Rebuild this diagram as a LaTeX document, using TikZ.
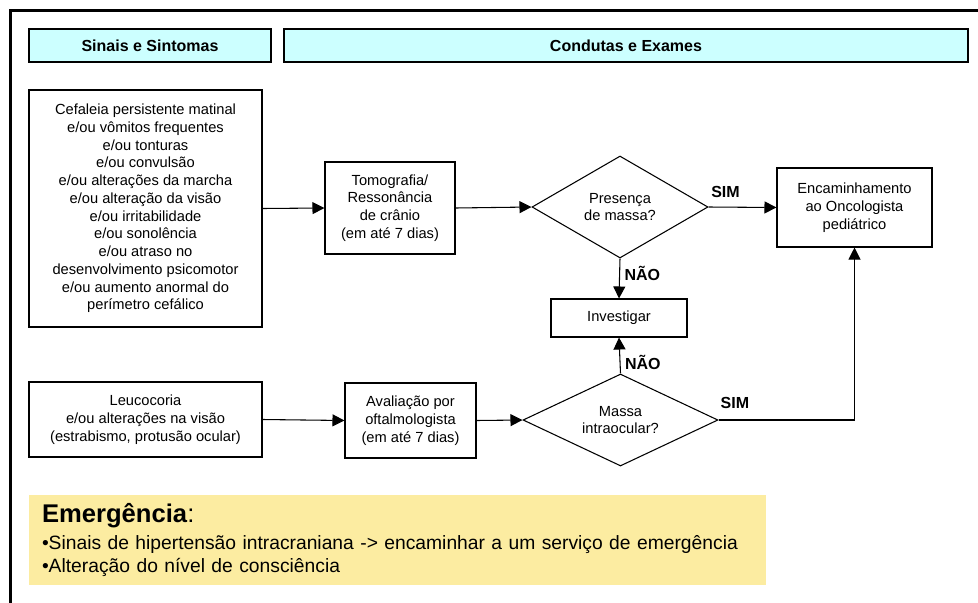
\documentclass[tikz,border=0pt]{standalone}
\usepackage{fontspec}
\setmainfont{Liberation Sans}
\usetikzlibrary{shapes.geometric,arrows.meta}
\definecolor{ciano}{RGB}{204,255,255}
\definecolor{amarelo}{RGB}{252,236,161}

\begin{document}
\begin{tikzpicture}[x=0.75pt,y=-0.75pt,
	caixa/.style={draw,line width=0.8pt,align=center,inner sep=0pt,font=\fontsize{11}{13.3}\selectfont},
	cabecalho/.style={draw,line width=0.9pt,fill=ciano,minimum height=24.75pt,font=\fontsize{12}{14}\selectfont\bfseries},
	decisao/.style={diamond,draw,line width=0.8pt,align=center,inner sep=0pt,aspect=1.7,font=\fontsize{11}{13.3}\selectfont},
	seta/.style={line width=0.8pt,-{Triangle[length=9pt,width=9pt]}},
	rotulo/.style={font=\fontsize{12}{14}\selectfont\bfseries}]
	\useasboundingbox (0,0) rectangle (978,603);
	\draw[line width=2.25pt] (10.5,603) -- (10.5,10.5) -- (978,10.5);
	\node[cabecalho,minimum width=181.5pt] (cab sinais) at (150,45.5) {Sinais e Sintomas};
	\node[cabecalho,minimum width=513pt] (cab condutas) at (626,45.5) {Condutas e Exames};
	\node[caixa,minimum width=174.75pt,minimum height=177.75pt] (sintomas) at (145.5,208.5) {Cefaleia persistente matinal\\e/ou vômitos frequentes\\e/ou tonturas\\e/ou convulsão\\e/ou alterações da marcha\\e/ou alteração da visão\\e/ou irritabilidade\\e/ou sonolência\\e/ou atraso no\\desenvolvimento psicomotor\\e/ou aumento anormal do\\perímetro cefálico};
	\node[caixa,minimum width=97.5pt,minimum height=69pt] (tomografia) at (390,208) {Tomografia/\\Ressonância\\de crânio\\(em até 7 dias)};
	\node[decisao,minimum width=132pt,minimum height=76.5pt] (presenca) at (620,207) {Presença\\de massa?};
	\node[caixa,minimum width=116.25pt,minimum height=59.25pt] (oncologista) at (854.5,207.5) {Encaminhamento\\ao Oncologista\\pediátrico};
	\node[caixa,minimum width=102pt,minimum height=28.5pt] (investigar) at (619,318) {Investigar};
	\node[caixa,minimum width=174.75pt,minimum height=56.25pt] (leucocoria) at (145.5,419.5) {Leucocoria\\e/ou alterações na visão\\(estrabismo, protusão ocular)};
	\node[caixa,minimum width=98.25pt,minimum height=56.25pt] (avaliacao) at (410.5,420.5) {Avaliação por\\oftalmologista\\(em até 7 dias)};
	\node[decisao,minimum width=146.25pt,minimum height=69pt] (massa) at (620.5,420) {Massa\\intraocular?};
	\node[fill=amarelo,minimum width=552.75pt,minimum height=67.5pt,text width=533.25pt,inner xsep=9.75pt,align=left,font=\fontsize{14.45}{17.3}\selectfont] (emergencia) at (397.5,540) {{\fontsize{19.2}{19}\selectfont\textbf{Emergência}:}\\[2.6pt]•Sinais de hipertensão intracraniana -> encaminhar a um serviço de emergência\\•Alteração do nível de consciência};
	\draw[seta] (sintomas.east) -- (tomografia.west);
	\draw[seta] (tomografia.east) -- (presenca.west);
	\draw[seta] (presenca.east) -- node[rotulo,above,pos=0.25,yshift=3.5pt] {SIM} (oncologista.west);
	\draw[seta] (presenca.south) -- node[rotulo,right,pos=0.37] {NÃO} (investigar.north);
	\draw[seta] (leucocoria.east) -- (avaliacao.west);
	\draw[seta] (avaliacao.east) -- (massa.west);
	\draw[seta] (massa.north) -- node[rotulo,right,pos=0.3] {NÃO} (investigar.south);
	\draw[seta] (massa.east) -| node[rotulo,above,pos=0.06,yshift=5pt] {SIM} (oncologista.south);
\end{tikzpicture}
\end{document}
